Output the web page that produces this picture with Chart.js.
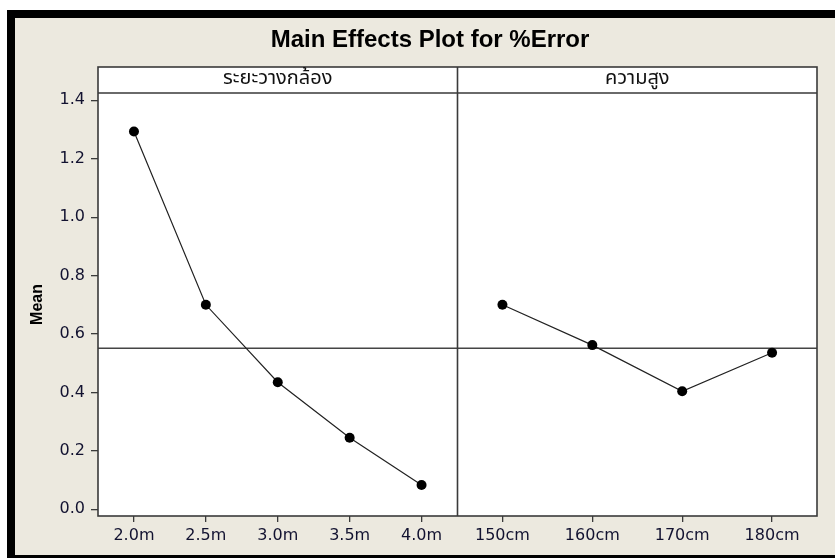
<!DOCTYPE html>
<html>
<head>
<meta charset="utf-8">
<script src="https://cdn.jsdelivr.net/npm/chart.js@4.4.1/dist/chart.umd.min.js"></script>
<style>
  html, body { margin: 0; padding: 0; background: #fff; }
  #wrap { width: 835px; height: 559px; }
</style>
</head>
<body>
<div id="wrap"><canvas id="effectsChart" width="835" height="559"></canvas></div>
<script>
// factor levels and their mean %Error
const distanceLabels = ['2.0m', '2.5m', '3.0m', '3.5m', '4.0m'];
const distanceMeans = [1.293, 0.700, 0.435, 0.245, 0.083];
const heightLabels = ['150cm', '160cm', '170cm', '180cm'];
const heightMeans = [0.700, 0.562, 0.404, 0.536];
const yTicks = [0.0, 0.2, 0.4, 0.6, 0.8, 1.0, 1.2, 1.4];
const panelTitles = ['ระยะวางกล้อง', 'ความสูง'];
const chartTitle = 'Main Effects Plot for %Error';

// overall mean (same for every factor in a balanced design)
const grandMean = distanceMeans.reduce((a, b) => a + b, 0) / distanceMeans.length;

const BEIGE = '#ece9df';
const FRAME = '#3a3a3a';
const TICK_FONT = { family: '"DejaVu Sans", Verdana, sans-serif', size: 16 };
const TICK_COLOR = '#121230';

// window frame, panels, strips, reference line and title
const panelFrame = {
  id: 'panelFrame',
  beforeDraw(chart) {
    const { ctx, width, height, chartArea: a } = chart;
    ctx.save();
    ctx.fillStyle = '#fff';
    ctx.fillRect(0, 0, width, height);
    ctx.fillStyle = BEIGE;
    ctx.fillRect(15, 18, width - 15, 537);
    ctx.fillStyle = '#000';
    ctx.fillRect(7, 10, width - 7, 8);
    ctx.fillRect(7, 10, 8, 548);
    ctx.fillRect(7, 555, width - 7, 3);
    ctx.fillStyle = '#fff';
    ctx.fillRect(a.left, 67, a.right - a.left, a.bottom - 67);
    ctx.restore();
  },
  beforeDatasetsDraw(chart) {
    const { ctx, chartArea: a, scales } = chart;
    const y = scales.y.getPixelForValue(grandMean);
    ctx.save();
    ctx.strokeStyle = '#444';
    ctx.lineWidth = 1.3;
    ctx.beginPath();
    ctx.moveTo(a.left, y);
    ctx.lineTo(a.right, y);
    ctx.stroke();
    ctx.restore();
  },
  afterDatasetsDraw(chart) {
    const { ctx, chartArea: a, scales } = chart;
    const split = scales.xDist.right;
    ctx.save();
    ctx.strokeStyle = FRAME;
    ctx.lineWidth = 1.6;
    ctx.strokeRect(a.left, 67, a.right - a.left, a.bottom - 67);
    ctx.beginPath();
    ctx.moveTo(a.left, a.top);
    ctx.lineTo(a.right, a.top);
    ctx.moveTo(split, 67);
    ctx.lineTo(split, a.bottom);
    ctx.stroke();

    ctx.fillStyle = '#111';
    ctx.textAlign = 'center';
    ctx.textBaseline = 'middle';
    ctx.font = '20px Tahoma, "Noto Sans Thai", "DejaVu Sans", sans-serif';
    ctx.fillText(panelTitles[0], (a.left + split) / 2, 80);
    ctx.fillText(panelTitles[1], (split + a.right) / 2, 80);

    ctx.fillStyle = '#000';
    ctx.font = 'bold 24px "Liberation Sans", Arial, sans-serif';
    ctx.fillText(chartTitle, 430, 40);
    ctx.restore();
  }
};

const xAxis = (labels) => ({
  type: 'category',
  labels: labels,
  position: 'bottom',
  stack: 'panels',
  stackWeight: 1,
  offset: true,
  border: { display: false },
  grid: { drawOnChartArea: false, tickLength: 6, color: FRAME, lineWidth: 1.3 },
  ticks: { font: TICK_FONT, color: TICK_COLOR, padding: 4, maxRotation: 0, autoSkip: false },
  afterFit: (scale) => { scale.height = 43; }
});

new Chart(document.getElementById('effectsChart'), {
  type: 'line',
  data: {
    datasets: [
      {
        label: 'Distance',
        data: distanceMeans,
        xAxisID: 'xDist',
        yAxisID: 'y'
      },
      {
        label: 'Height',
        data: heightMeans,
        xAxisID: 'xHeight',
        yAxisID: 'y'
      }
    ]
  },
  options: {
    responsive: false,
    animation: false,
    devicePixelRatio: 1,
    layout: { padding: { top: 93, left: 0, right: 18, bottom: 0 } },
    elements: {
      line: { borderColor: '#222', borderWidth: 1.2, tension: 0 },
      point: { radius: 5, backgroundColor: '#000', borderWidth: 0, hoverRadius: 5 }
    },
    plugins: {
      legend: { display: false },
      title: { display: false },
      tooltip: { enabled: false }
    },
    scales: {
      xDist: xAxis(distanceLabels),
      xHeight: xAxis(heightLabels),
      y: {
        min: -0.023,
        max: 1.425,
        border: { display: false },
        grid: { drawOnChartArea: false, tickLength: 7, color: FRAME, lineWidth: 1.3 },
        ticks: {
          font: TICK_FONT,
          color: TICK_COLOR,
          padding: 6,
          callback: (v) => Number(v).toFixed(1)
        },
        afterBuildTicks: (scale) => { scale.ticks = yTicks.map(v => ({ value: v })); },
        afterFit: (scale) => { scale.width = 98; },
        title: {
          display: true,
          text: 'Mean',
          color: '#000',
          font: { family: '"Liberation Sans", Arial, sans-serif', size: 16, weight: 'bold' },
          padding: { top: 28, bottom: 0 }
        }
      }
    }
  },
  plugins: [panelFrame]
});
</script>
</body>
</html>
